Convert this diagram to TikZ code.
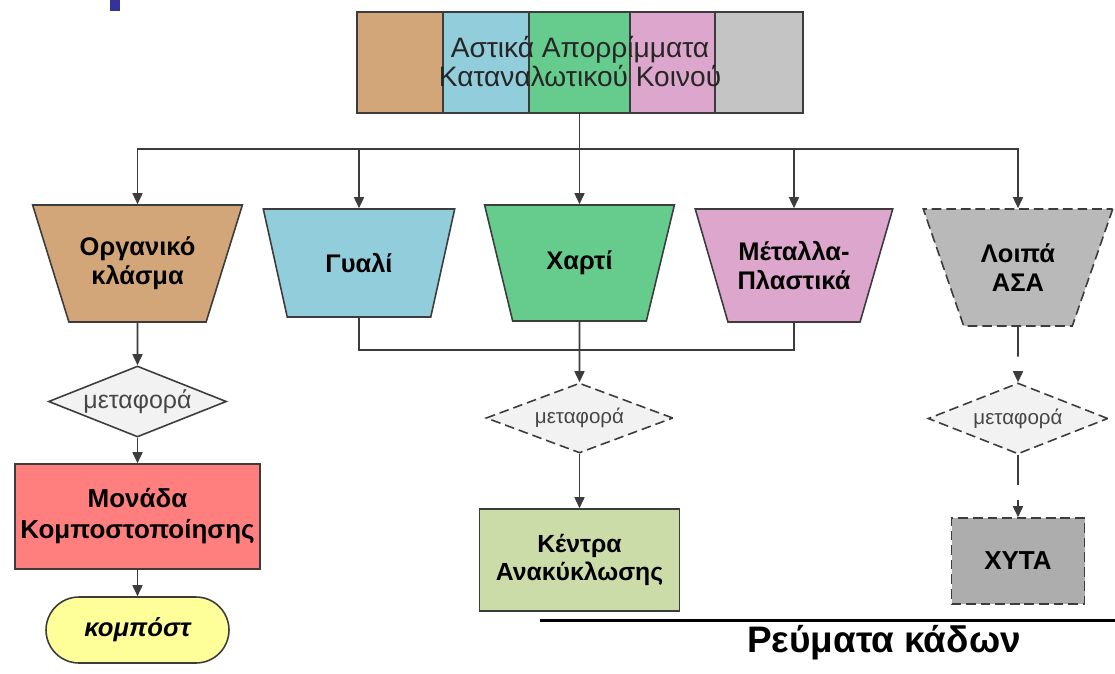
\documentclass[tikz,border=0pt]{standalone}
\usepackage{fontspec}
\setmainfont{Liberation Sans}
\usetikzlibrary{shapes.geometric,arrows.meta,calc}

\definecolor{orgC}{RGB}{210,166,121}
\definecolor{glsC}{RGB}{146,205,220}
\definecolor{pprC}{RGB}{102,204,142}
\definecolor{mtlC}{RGB}{221,166,204}
\definecolor{othC}{RGB}{196,196,196}
\definecolor{restC}{RGB}{185,185,185}
\definecolor{xytaC}{RGB}{173,173,173}
\definecolor{diaC}{RGB}{242,242,242}
\definecolor{unitC}{RGB}{255,127,127}
\definecolor{cmpC}{RGB}{255,255,153}
\definecolor{recC}{RGB}{204,220,168}
\definecolor{lineC}{RGB}{60,60,60}
\definecolor{txtC}{RGB}{70,70,70}
\definecolor{markC}{RGB}{51,51,153}

\tikzset{
	arr/.style={-{Triangle[length=2.2mm,width=2mm]}, draw=lineC, line width=0.9pt},
	seg/.style={rectangle, draw=lineC, line width=0.9pt, minimum height=2.02cm, inner sep=0pt},
	bin/.style={trapezium, shape border rotate=180, trapezium left angle=60,
		trapezium right angle=60, trapezium stretches=true, draw=lineC,
		line width=0.9pt, align=center, inner sep=0pt,
		font=\fontsize{14.5}{16.5}\selectfont\bfseries},
	trip/.style={diamond, draw=lineC, fill=diaC, aspect=2.5, inner sep=0pt,
		line width=0.9pt, text=txtC},
	box/.style={rectangle, draw=lineC, line width=0.9pt, align=center, inner sep=0pt,
		font=\fontsize{14.8}{17.6}\selectfont\bfseries},
	dashbox/.style={dash pattern=on 5.5pt off 2.8pt},
	dashline/.style={dash pattern=on 17pt off 8.5pt}
}

\begin{document}
\begin{tikzpicture}[x=0.02cm, y=-0.02cm]
	\useasboundingbox (0,0) rectangle (1115,673);
	\fill[markC] (110,0) rectangle (120,11);

	% top bar
	\node[seg, fill=orgC, minimum width=1.72cm] (s1) at (400,62.5) {};
	\node[seg, fill=glsC, minimum width=1.72cm] (s2) at (486,62.5) {};
	\node[seg, fill=pprC, minimum width=2.02cm] (s3) at (579.5,62.5) {};
	\node[seg, fill=mtlC, minimum width=1.70cm] (s4) at (672.5,62.5) {};
	\node[seg, fill=othC, minimum width=1.76cm] (s5) at (759,62.5) {};
	\node[align=center, text=black!85, font=\fontsize{16}{16.5}\selectfont] (title) at (580,62)
		{Αστικά Απορρίμματα\\Καταναλωτικού Κοινού};

	% bins
	\node[bin, fill=orgC, minimum width=4.22cm, minimum height=2.34cm] (org) at (137.5,263.5) {Οργανικό\\κλάσμα};
	\node[bin, fill=glsC, minimum width=3.84cm, minimum height=2.16cm] (gls) at (359,263) {Γυαλί};
	\node[bin, fill=pprC, minimum width=3.80cm, minimum height=2.32cm] (ppr) at (579.5,263) {Χαρτί};
	\node[bin, fill=mtlC, minimum width=3.96cm, minimum height=2.26cm] (mtl) at (794,265.5) {Μέταλλα-\\Πλαστικά};
	\node[bin, dashbox, fill=restC, minimum width=3.82cm, minimum height=2.34cm] (oth) at (1018,267.5) {Λοιπά\\ΑΣΑ};

	% transport
	\node[trip, minimum width=3.56cm, minimum height=1.42cm, font=\fontsize{14.2}{16}\selectfont] (dorg) at (137.5,401.5) {μεταφορά};
	\node[trip, dashbox, minimum width=3.74cm, minimum height=1.40cm, font=\fontsize{11.7}{13}\selectfont] (dppr) at (579.5,418) {μεταφορά};
	\node[trip, dashbox, minimum width=3.60cm, minimum height=1.42cm, font=\fontsize{11.7}{13}\selectfont] (doth) at (1018,418.5) {μεταφορά};

	% targets
	\node[box, fill=unitC, minimum width=4.9cm, minimum height=2.1cm] (unit) at (137.5,516.5) {Μονάδα\\Κομποστοποίησης};
	\node[box, fill=cmpC, minimum width=3.66cm, minimum height=1.32cm, rounded corners=0.66cm,
		font=\fontsize{14.6}{16}\selectfont\bfseries\itshape] (cmp) at (137.5,630) {κομπόστ};
	\node[box, fill=recC, minimum width=4.0cm, minimum height=2.04cm,
		font=\fontsize{14.1}{16.4}\selectfont\bfseries] (rec) at (579.5,560) {Κέντρα\\Ανακύκλωσης};
	\node[box, dashbox, fill=xytaC, minimum width=2.66cm, minimum height=1.72cm] (xyta) at (1018,561) {ΧΥΤΑ};

	\coordinate (bus) at ($(s3.south)+(0,35)$);
	\draw[draw=lineC, line width=0.9pt] (s3.south) -- (bus);
	\foreach \b in {org,gls,ppr,mtl,oth}
		\draw[arr] (bus) -| (\b);

	\draw[draw=lineC, line width=0.9pt] (gls.south) -- ++(0,32) -| (mtl.south);
	\draw[arr] (ppr) -- (dppr);
	\draw[arr] (dppr) -- (rec);
	\draw[arr] (org) -- (dorg);
	\draw[arr] (dorg) -- (unit);
	\draw[arr] (unit) -- (cmp);
	\draw[arr, dashline] (oth) -- (doth);
	\draw[arr, dashline] (doth) -- (xyta);

	% caption
	\draw[line width=1.7pt] (540,620) -- (1115,620);
	\node[font=\fontsize{21}{23}\selectfont\bfseries] (cap) at (884,643) {Ρεύματα κάδων};
\end{tikzpicture}
\end{document}
